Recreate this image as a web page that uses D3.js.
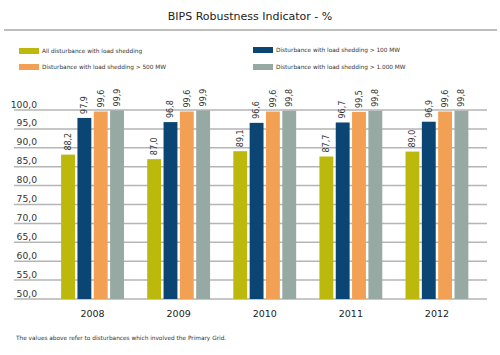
<!DOCTYPE html>
<html><head><meta charset="utf-8">
<script src="https://cdn.jsdelivr.net/npm/d3@7"></script>
<style>
html,body{margin:0;padding:0;background:#fff;}
svg{display:block;font-family:"DejaVu Sans",Verdana,sans-serif;}
</style></head>
<body><svg id="c" width="500" height="355"></svg>
<script>
const years = ["2008","2009","2010","2011","2012"];
const seriesNames = [
  "All disturbance with load shedding",
  "Disturbance with load shedding > 100 MW",
  "Disturbance with load shedding > 500 MW",
  "Disturbance with load shedding > 1.000 MW"
];
const allDist = [88.2, 87.0, 89.1, 87.7, 89.0];
const over100 = [97.9, 96.8, 96.6, 96.7, 96.9];
const over500 = [99.6, 99.6, 99.6, 99.5, 99.6];
const over1000 = [99.9, 99.9, 99.8, 99.8, 99.8];
const yTicks = [50,55,60,65,70,75,80,85,90,95,100];
const colors = ["#bdb80c", "#0b4573", "#f2a154", "#97a9a3"];
const title = "BIPS Robustness Indicator - %";
const footnote = "The values above refer to disturbances which involved the Primary Grid.";

const seriesValues = [allDist, over100, over500, over1000];
const svg = d3.select("#c");
const fmt = v => d3.format(".1f")(v).replace(".", ",");

// Title and separator
svg.append("text").attr("x", 250).attr("y", 19.5).attr("text-anchor","middle")
  .attr("font-size", 11).attr("fill", "#222").text(title);
svg.append("line").attr("x1", 4).attr("x2", 497).attr("y1", 30).attr("y2", 30)
  .attr("stroke", "#a8a8a8").attr("stroke-width", 1.5);

// Legend
const legendPos = [[19,48],[253,47],[19,64],[253,64]];
seriesNames.forEach((name,i)=>{
  const [lx,ly] = legendPos[i];
  svg.append("rect").attr("x", lx).attr("y", ly).attr("width", 20).attr("height", 6).attr("fill", colors[i]);
  svg.append("text").attr("x", lx + 23).attr("y", ly + 3).attr("dy","0.35em")
    .attr("font-size", 5.8).attr("fill", "#333").text(name);
});

// Scales
const y = d3.scaleLinear().domain([50, 100]).range([299, 110]);
const x0 = d3.scaleBand().domain(years).range([49.5, 480]).paddingInner(0.27).paddingOuter(0.135);
const x1 = d3.scaleBand().domain(d3.range(seriesNames.length)).range([0, x0.bandwidth()]).paddingInner(0.15);

// Gridlines + tick labels
const grid = svg.append("g");
yTicks.forEach(t=>{
  grid.append("line").attr("x1", 14).attr("x2", 487).attr("y1", y(t)).attr("y2", y(t))
    .attr("stroke", "#b5b5b5").attr("stroke-width", 1.5);
  grid.append("text").attr("x", 37).attr("y", y(t) - 2.5).attr("text-anchor","end")
    .attr("font-size", 9.2).attr("fill", "#333").text(fmt(t));
});

// Bars
const groups = svg.append("g").selectAll("g").data(years).join("g")
  .attr("transform", d => `translate(${x0(d)},0)`);
groups.each(function(yr, yi){
  const g = d3.select(this);
  seriesValues.forEach((vals, si)=>{
    const v = vals[yi];
    g.append("rect").attr("x", x1(si)).attr("y", y(v)).attr("width", x1.bandwidth())
      .attr("height", y(50) - y(v)).attr("fill", colors[si]);
    const cx = x1(si) + x1.bandwidth()/2;
    g.append("text").attr("transform", `translate(${cx},${y(v) - 4}) rotate(-90)`)
      .attr("dy", "0.35em").attr("text-anchor","start")
      .attr("font-size", 8).attr("fill", "#333").text(fmt(v));
  });
});

// Year labels
years.forEach(yr=>{
  svg.append("text").attr("x", x0(yr) + x0.bandwidth()/2).attr("y", 317).attr("text-anchor","middle")
    .attr("font-size", 9.5).attr("fill", "#222").text(yr);
});

// Footnote
svg.append("text").attr("x", 16).attr("y", 338).attr("dy","0.35em")
  .attr("font-size", 5.8).attr("fill", "#333").text(footnote);
</script></body></html>
